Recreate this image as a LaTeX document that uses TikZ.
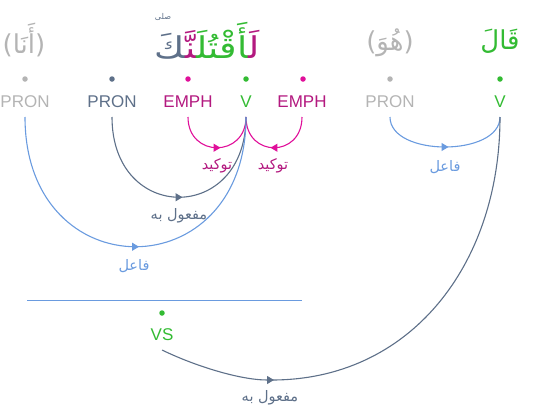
\documentclass[tikz,border=0pt]{standalone}
\usepackage{fontspec}
\setmainfont{Liberation Sans}
\newfontfamily\arabicfont[Script=Arabic]{DejaVu Sans}
\newfontfamily\arabicwide[Script=Arabic,FakeStretch=1.22]{DejaVu Sans}
\TeXXeTstate=1
\usetikzlibrary{arrows.meta,decorations.markings}
\definecolor{cgray}{HTML}{B4B4B4}
\definecolor{cslate}{HTML}{5E7089}
\definecolor{cmagt}{HTML}{B3197F}
\definecolor{cmag}{HTML}{E0109A}
\definecolor{cgreen}{HTML}{33BB33}
\definecolor{cblue}{HTML}{6A9BDF}
\def\zj{^^^^200d}
\tikzset{
  tag/.style={font=\fontsize{17}{20}\selectfont, inner xsep=0pt, inner ysep=9.7pt, text height=12.2pt, text depth=0pt},
  dot/.style={circle, inner sep=0pt, minimum size=5.5pt},
  word/.style={font=\arabicfont\fontsize{26}{30}\selectfont, inner sep=0pt},
  lbl/.style={font=\arabicfont\fontsize{14.5}{16}\selectfont, inner sep=0pt},
  arc/.style={line width=1.1pt, postaction={decorate}, decoration={markings, mark=at position 0.5 with {\arrow[xshift=3.5pt]{Triangle[length=7pt,width=8pt]}}}},
}
\begin{document}
\begin{tikzpicture}[x=1pt,y=-1pt]
\useasboundingbox (0,0) rectangle (550,410);
% words
\node[word, text=cgray] (w1) at (24,40) {(أَنَا)};
\node[word, font=\arabicwide\fontsize{30}{34}\selectfont] (w2) at (207,41) {{\color{cslate}\zj كَ}{\color{cmagt}\zj نَّ\zj}{\color{cgreen}\zj أَقْتُلَ\zj}{\color{cmagt}لَ\zj}};
\node[font=\arabicfont\fontsize{8}{9}\selectfont, text=cslate, inner sep=0pt] (pm) at (163,17) {صلى};
\node[word, text=cgray] (w3) at (390,43) {(هُوَ)};
\node[word, text=cgreen] (w4) at (500,41) {قَالَ};
% dots
\node[dot, fill=cgray] (d1) at (25,79) {};
\node[dot, fill=cslate] (d2) at (112,79) {};
\node[dot, fill=cmag] (d3) at (188,79) {};
\node[dot, fill=cgreen] (d4) at (246,79) {};
\node[dot, fill=cmag] (d5) at (303,79) {};
\node[dot, fill=cgray] (d6) at (390,79) {};
\node[dot, fill=cgreen] (d7) at (500,79) {};
% tags
\node[tag, text=cgray] (p1) at (25,101) {PRON};
\node[tag, text=cslate] (p2) at (112,101) {PRON};
\node[tag, text=cmagt] (e1) at (188,101) {EMPH};
\node[tag, text=cgreen] (v1) at (246,101) {V};
\node[tag, text=cmagt] (e2) at (302,101) {EMPH};
\node[tag, text=cgray] (p3) at (390,101) {PRON};
\node[tag, text=cgreen] (v2) at (500,101) {V};
% arcs
\draw[arc, cmag] (e1.south) .. controls +(0,41) and +(0,41) .. (v1.south);
\draw[arc, cmag] (e2.south) .. controls +(0,41) and +(0,41) .. (v1.south);
\draw[arc, cslate] (p2.south) .. controls +(0,107) and +(0,107) .. (v1.south);
\draw[arc, cblue] (p1.south) .. controls +(0,173) and +(0,173) .. (v1.south);
\draw[arc, cblue] (p3.south) .. controls +(0,40) and +(0,40) .. (v2.south);
% labels
\node[lbl, text=cmagt] (l1) at (217,166) {\beginR توكيد\endR};
\node[lbl, text=cmagt] (l2) at (273,166) {\beginR توكيد\endR};
\node[lbl, text=cslate] (l3) at (179,216) {\beginR مفعول به\endR};
\node[lbl, text=cblue] (l4) at (134,266) {\beginR فاعل\endR};
\node[lbl, text=cblue] (l5) at (445,167) {\beginR فاعل\endR};
% separator
\draw[cblue, line width=1pt] (27,300) -- (302,300);
% hidden subject
\node[dot, fill=cgreen] (d8) at (162,313) {};
\node[tag, text=cgreen] (vs) at (162,334) {VS};
\coordinate (mid) at (270,380);
\draw[cslate, line width=1.1pt, -{Triangle[length=7pt,width=8pt]}] (vs.south) .. controls (195,366) and (240,380) .. ([xshift=4pt]mid);
\draw[cslate, line width=1.1pt] (mid) .. controls (410,381) and (500,265) .. (v2.south);
\node[lbl, text=cslate] (l6) at (270,398) {\beginR مفعول به\endR};
\end{tikzpicture}
\end{document}
